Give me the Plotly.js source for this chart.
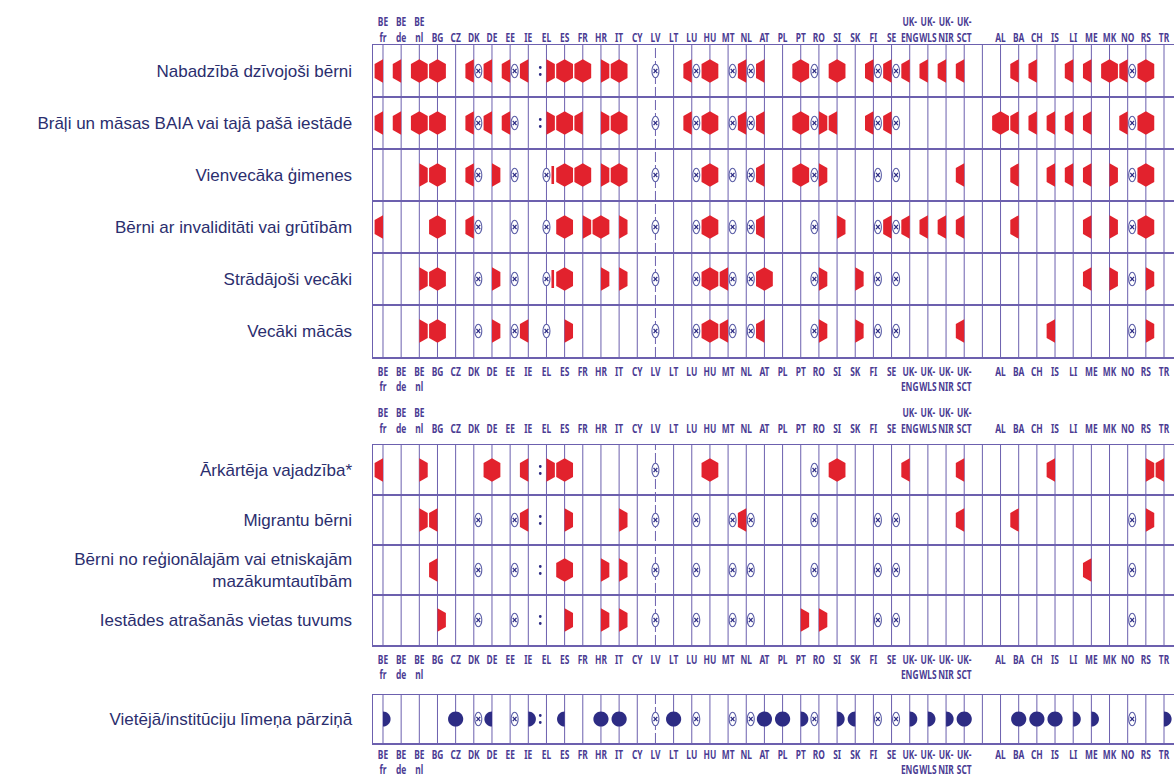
<!DOCTYPE html>
<html><head><meta charset="utf-8">
<script src="https://cdn.plot.ly/plotly-3.0.1.min.js"></script>
<style>
html,body{margin:0;padding:0;background:#fff;}
#chart{width:1174px;height:777px;}
</style>
</head><body><div id="chart"></div>
<script>
// ---------- DATA ----------
const countries = ['BE fr','BE de','BE nl','BG','CZ','DK','DE','EE','IE','EL','ES',
  'FR','HR','IT','CY','LV','LT','LU','HU','MT','NL','AT',
  'PL','PT','RO','SI','SK','FI','SE','UK-ENG','UK-WLS','UK-NIR','UK-SCT',
  '','AL','BA','CH','IS','LI','ME','MK','NO','RS','TR'];
const tickLabels = ['BE<br>fr','BE<br>de','BE<br>nl','BG','CZ','DK','DE','EE','IE','EL','ES',
  'FR','HR','IT','CY','LV','LT','LU','HU','MT','NL','AT',
  'PL','PT','RO','SI','SK','FI','SE','UK-<br>ENG','UK-<br>WLS','UK-<br>NIR','UK-<br>SCT',
  '','AL','BA','CH','IS','LI','ME','MK','NO','RS','TR'];

// codes per country: [left][right]; h = red half, c = navy half circle, x = ⊗, ':' = not available,
// b = thin bar, X = single centred ⊗, '-' = nothing
const block1Rows = ['Nabadzībā dzīvojoši bērni','Brāļi un māsas BAIA vai tajā pašā iestādē','Vienvecāka ģimenes',
  'Bērni ar invaliditāti vai grūtībām','Strādājoši vecāki','Vecāki mācās'];
const poverty = ['h-','h-','hh','hh','--','hx','h-','hx','h-',':h','hh',
  'hh','-h','hh','--','X-','--','hx','hh','-x','hx','h-',
  '--','hh','x-','hh','--','hx','hx','h-','h-','h-','h-',
  '--','--','h-','h-','--','h-','h-','hh','hx','hh','--'];
const siblings = ['h-','h-','hh','hh','--','hx','h-','hx','--',':h','hh',
  'h-','-h','hh','--','X-','--','hx','hh','-x','hx','h-',
  '--','hh','xh','h-','--','hx','hx','--','--','--','--',
  '--','hh','h-','h-','h-','h-','h-','--','hx','hh','--'];
const singleParent = ['--','--','-h','hh','--','hx','-h','-x','--','Xb','hh',
  'hh','-h','hh','--','X-','--','-x','hh','-x','-x','h-',
  '--','hh','xh','--','--','-x','-x','--','--','--','h-',
  '--','--','h-','--','h-','h-','h-','-h','-x','hh','--'];
const disability = ['h-','--','--','hh','--','hx','--','-x','--','X-','hh',
  '-h','hh','-h','--','X-','--','-x','hh','-x','-x','h-',
  '--','--','x-','-h','--','-x','hx','h-','h-','h-','h-',
  '--','--','h-','--','--','--','h-','-h','-x','hh','--'];
const workingParents = ['--','--','-h','hh','--','-x','-h','-x','--','Xb','hh',
  '--','-h','-h','--','X-','--','-x','hh','hx','-x','hh',
  '--','--','xh','--','-h','-x','-x','--','--','--','--',
  '--','--','--','--','--','--','h-','-h','-x','-h','--'];
const studyingParents = ['--','--','-h','hh','--','-x','-h','-x','h-','X-','-h',
  '--','--','--','--','X-','--','-x','hh','hx','-x','h-',
  '--','--','xh','--','-h','-x','-x','--','--','--','h-',
  '--','--','--','--','h-','--','--','--','-x','-h','--'];

const block2Rows = ['Ārkārtēja vajadzība*','Migrantu bērni',
  'Bērni no reģionālajām vai etniskajām<br>mazākumtautībām','Iestādes atrašanās vietas tuvums'];
const emergency = ['h-','--','-h','--','--','--','hh','--','h-',':h','hh',
  '--','--','--','--','X-','--','--','hh','--','--','--',
  '--','--','x-','hh','--','--','--','h-','--','--','h-',
  '--','--','--','--','h-','--','--','--','--','-h','h-'];
const migrants = ['--','--','-h','h-','--','-x','--','-x','h-',':-','-h',
  '--','--','-h','--','X-','--','-x','--','-x','hx','--',
  '--','--','x-','--','--','-x','-x','--','--','--','h-',
  '--','--','h-','--','--','--','--','--','-x','-h','--'];
const minorities = ['--','--','--','h-','--','-x','--','-x','--',':-','hh',
  '--','-h','-h','--','X-','--','-x','--','-x','-x','--',
  '--','--','x-','--','--','-x','-x','--','--','--','--',
  '--','--','--','--','--','--','h-','--','-x','--','--'];
const proximity = ['--','--','--','-h','--','-x','--','-x','--',':-','-h',
  '--','-h','-h','--','X-','--','-x','--','-x','-x','--',
  '--','-h','-h','--','--','-x','-x','--','--','--','--',
  '--','--','--','--','--','--','--','--','-x','--','--'];

const block3Rows = ['Vietējā/institūciju līmeņa pārziņā'];
const localLevel = ['-c','--','--','--','cc','-x','c-','-x','-c',':-','c-',
  '--','cc','cc','--','X-','cc','-x','--','-x','-x','cc',
  'cc','-c','x-','-c','c-','-x','-x','-c','-c','-c','cc',
  '--','--','cc','cc','cc','-c','-c','--','-x','--','-c'];

// ---------- STYLE ----------
const W = 1174, H = 777;
const RED = '#e2222d', NAVY = '#2d2c84', LINE = '#6c60ae', TXT = '#2b2e6e', TICK = '#4b3c93';
const TICK_SQUEEZE = 0.7;
const frac = p => 1 - p / H;
const xs = countries.map((_, i) => i);

const blocks = [
  {rows: block1Rows, data: [poverty, siblings, singleParent, disability, workingParents, studyingParents], xref: 'x', yref: 'y'},
  {rows: block2Rows, data: [emergency, migrants, minorities, proximity], xref: 'x3', yref: 'y2'},
  {rows: block3Rows, data: [localLevel], xref: 'x5', yref: 'y3'}
];

const shapes = [];
const lvIdx = countries.indexOf('LV');
blocks.forEach(b => {
  xs.forEach(i => {
    shapes.push({type: 'line', xref: b.xref, yref: b.yref + ' domain', x0: i, x1: i, y0: 0, y1: 1,
      line: {color: LINE, width: 1, dash: i === lvIdx ? '10px,3px' : 'solid'}, layer: 'below'});
  });
});

function pathShape(b, xi, yi, path, fill) {
  shapes.push({type: 'path', xref: b.xref, yref: b.yref, xsizemode: 'pixel', ysizemode: 'pixel',
    xanchor: xi, yanchor: yi, path: path, fillcolor: fill, line: {width: 0}, layer: 'above'});
}
function hexPath(s) { // s=-1 left, 1 right, 0 full
  const w = 8.4, t = 11.8, m = 7;
  if (s === 0) return `M0,${t} L${-w},${m} L${-w},${-m} L0,${-t} L${w},${-m} L${w},${m} Z`;
  return `M0,${t} L${s*w},${m} L${s*w},${-m} L0,${-t} Z`;
}
function circPath(s) {
  const r = 7.6, k = 0.5523 * r;
  const half = sg => `C${sg*k},${r} ${sg*r},${k} ${sg*r},0 C${sg*r},${-k} ${sg*k},${-r} 0,${-r}`;
  if (s === 0) return `M0,${r} ${half(1)} C${-k},${-r} ${-r},${-k} ${-r},0 C${-r},${k} ${-k},${r} 0,${r} Z`;
  return `M0,${r} ${half(s)} Z`;
}
function crossMark(b, xi, yi, off) {
  shapes.push({type: 'circle', xref: b.xref, yref: b.yref, xsizemode: 'pixel', ysizemode: 'pixel',
    xanchor: xi, yanchor: yi, x0: off - 3.5, x1: off + 3.5, y0: -6.8, y1: 6.8,
    fillcolor: '#ffffff', line: {color: '#5a5da6', width: 1.1}, layer: 'above'});
  shapes.push({type: 'path', xref: b.xref, yref: b.yref, xsizemode: 'pixel', ysizemode: 'pixel',
    xanchor: xi, yanchor: yi, path: `M${off-1.9},${-2.2} L${off+1.9},${2.2} M${off-1.9},${2.2} L${off+1.9},${-2.2}`,
    line: {color: NAVY, width: 1.3}, layer: 'above'});
}
function notAvail(b, xi, yi, off) {
  [3.5, -3.5].forEach(dy => shapes.push({type: 'circle', xref: b.xref, yref: b.yref, xsizemode: 'pixel', ysizemode: 'pixel',
    xanchor: xi, yanchor: yi, x0: off - 1.4, x1: off + 1.4, y0: dy - 1.4, y1: dy + 1.4,
    fillcolor: NAVY, line: {width: 0}, layer: 'above'}));
}
function side(b, xi, yi, code, s) {
  if (code === 'h') pathShape(b, xi, yi, hexPath(s), RED);
  else if (code === 'c') pathShape(b, xi, yi, circPath(s), NAVY);
  else if (code === 'x') crossMark(b, xi, yi, s * 4.5);
  else if (code === ':') notAvail(b, xi, yi, s * 6.2);
  else if (code === 'b') pathShape(b, xi, yi, `M${s*5},9 L${s*7.6},9 L${s*7.6},-9 L${s*5},-9 Z`, RED);
}
blocks.forEach(b => {
  b.data.forEach((row, yi) => {
    row.forEach((code, xi) => {
      if (code[0] === 'X') { crossMark(b, xi, yi, 0); side(b, xi, yi, code[1], 1); return; }
      if (code === 'hh') { pathShape(b, xi, yi, hexPath(0), RED); return; }
      if (code === 'cc') { pathShape(b, xi, yi, circPath(0), NAVY); return; }
      side(b, xi, yi, code[0], -1);
      side(b, xi, yi, code[1], 1);
    });
  });
});

const tickFont = {family: 'Noto Sans, DejaVu Sans Condensed, sans-serif', size: 12, weight: 700, color: TICK};
function baseX(extra) {
  return Object.assign({domain: [373 / W, 1], range: [-0.55, 43.55], tickmode: 'array', tickvals: xs, ticktext: tickLabels,
    ticks: '', zeroline: false, showgrid: false, linecolor: LINE, linewidth: 1.5,
    tickfont: tickFont, fixedrange: true, tickangle: 0}, extra);
}
function baseY(labels, top, bottom, anchor) {
  const bounds = labels.slice(1).map((_, i) => i + 0.5);
  return {domain: [frac(bottom), frac(top)], anchor: anchor, range: [labels.length - 0.5, -0.5],
    tickmode: 'array', tickvals: labels.map((_, i) => i), ticktext: labels, ticks: '',
    showgrid: false, zeroline: false, showline: true, linecolor: LINE, linewidth: 1.5, mirror: false,
    ticklabelstandoff: 16, fixedrange: true,
    tickfont: {family: 'Liberation Sans, Arial, sans-serif', size: 17, color: TXT},
    minor: {tickmode: 'array', tickvals: bounds, showgrid: true, gridcolor: LINE, gridwidth: 1.3, ticks: ''}};
}

const layout = {
  width: W, height: H, margin: {l: 0, r: 0, t: 0, b: 0}, paper_bgcolor: '#ffffff', plot_bgcolor: '#ffffff',
  showlegend: false,
  xaxis: baseX({anchor: 'y', side: 'bottom', showline: true, mirror: true, ticklabelstandoff: 3}),
  xaxis2: baseX({anchor: 'y', side: 'top', overlaying: 'x', showline: false, ticklabelstandoff: 0}),
  xaxis3: baseX({anchor: 'y2', side: 'bottom', showline: true, mirror: true, ticklabelstandoff: 3}),
  xaxis4: baseX({anchor: 'y2', side: 'top', overlaying: 'x3', showline: false, ticklabelstandoff: 9}),
  xaxis5: baseX({anchor: 'y3', side: 'bottom', showline: true, mirror: true, ticklabelstandoff: 0}),
  yaxis: baseY(block1Rows, 45, 357, 'x'),
  yaxis2: baseY(block2Rows, 445, 645, 'x3'),
  yaxis3: baseY(block3Rows, 695, 743, 'x5'),
  shapes: shapes
};

// empty traces only register each subplot / overlaid axis pair
const axisPairs = [['x','y'],['x2','y'],['x3','y2'],['x4','y2'],['x5','y3']];
const traces = axisPairs.map(p => ({type: 'scatter', mode: 'markers', x: [], y: [], xaxis: p[0], yaxis: p[1],
  hoverinfo: 'skip', showlegend: false}));

Plotly.newPlot('chart', traces, layout, {staticPlot: true, displayModeBar: false}).then(gd => {
  // condensed look for the country codes: squeeze each label horizontally around its anchor
  gd.querySelectorAll('.xaxislayer-above text, .overaxes-above text').forEach(t => {
    const x = parseFloat(t.getAttribute('x')) || 0;
    const tr = t.getAttribute('transform') || '';
    t.setAttribute('transform', `${tr} translate(${x},0) scale(${TICK_SQUEEZE},1) translate(${-x},0)`);
  });
});
</script>
</body></html>
